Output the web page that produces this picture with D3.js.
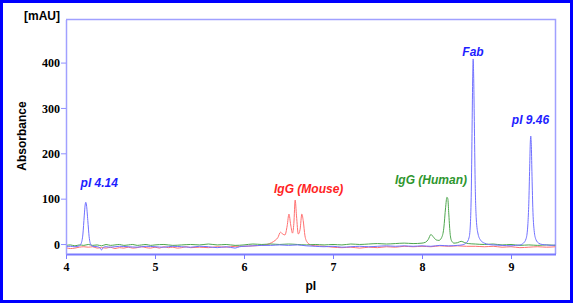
<!DOCTYPE html>
<html>
<head>
<meta charset="utf-8">
<script src="https://cdn.jsdelivr.net/npm/d3@7"></script>
<style>
  body { margin: 0; background: #fff; }
  .title { font-family: "Liberation Sans", Arial, sans-serif; font-weight: bold; font-size: 12px; fill: #000; }
  .peak { font-family: "Liberation Sans", Arial, sans-serif; font-weight: bold; font-style: italic; font-size: 12px; }
</style>
</head>
<body>
<div id="chart"></div>
<script>
// electropherogram traces, [pI, mAU]
var blueTrace = [[4.00,-6],[4.05,-5],[4.10,-6],[4.15,-4],[4.17,1],[4.19,22],[4.205,62],[4.215,86],[4.222,92],[4.23,86],[4.245,52],[4.26,16],[4.28,-2],[4.30,-5],[4.35,-6],[4.38,-8],[4.40,-13],[4.42,-7],[4.45,-6],[4.5,-7],[4.6,-5],[4.7,-6],[4.8,-7],[4.9,-5],[5.0,-6],[5.1,-7],[5.2,-5],[5.3,-6],[5.4,-7],[5.5,-5],[5.6,-6],[5.7,-8],[5.8,-6],[5.9,-9],[5.95,-6],[6.0,-5],[6.1,-4],[6.2,-3],[6.3,-3],[6.4,-2],[6.5,-3],[6.6,-2],[6.7,-4],[6.8,-5],[6.9,-6],[7.0,-5],[7.1,-7],[7.2,-6],[7.3,-5],[7.4,-6],[7.5,-5],[7.6,-4],[7.7,-5],[7.8,-4],[7.9,-5],[8.0,-4],[8.1,-5],[8.2,-3],[8.3,-4],[8.4,-3],[8.45,-2],[8.50,3],[8.53,15],[8.545,50],[8.555,130],[8.563,260],[8.570,370],[8.575,408],[8.580,375],[8.588,270],[8.597,140],[8.61,55],[8.63,22],[8.66,8],[8.70,2],[8.75,-1],[8.8,-2],[8.9,-3],[9.0,-4],[9.05,-3],[9.10,-2],[9.14,2],[9.17,12],[9.19,45],[9.20,90],[9.21,170],[9.217,225],[9.222,238],[9.228,220],[9.235,160],[9.245,80],[9.26,30],[9.28,10],[9.31,2],[9.35,-1],[9.4,-2],[9.45,-3],[9.5,-2]];

var redTrace = [[4.00,-8],[4.05,-10],[4.10,-9],[4.15,-7],[4.20,-6],[4.25,-7],[4.30,-6],[4.35,-9],[4.40,-8],[4.45,-9],[4.50,-7],[4.55,-10],[4.60,-8],[4.65,-9],[4.70,-7],[4.75,-9],[4.80,-8],[4.85,-6],[4.90,-8],[4.95,-9],[5.00,-7],[5.05,-9],[5.10,-6],[5.15,-8],[5.20,-7],[5.25,-9],[5.30,-8],[5.35,-6],[5.40,-8],[5.50,-7],[5.60,-8],[5.70,-6],[5.80,-7],[5.90,-5],[6.00,-5],[6.10,-4],[6.20,-3],[6.26,-1],[6.31,3],[6.35,8],[6.38,14],[6.41,26],[6.435,22],[6.46,20],[6.485,40],[6.505,66],[6.525,42],[6.545,24],[6.56,45],[6.575,97],[6.59,62],[6.61,22],[6.63,32],[6.65,66],[6.665,52],[6.685,18],[6.71,4],[6.75,-2],[6.80,-4],[6.90,-5],[7.00,-7],[7.10,-8],[7.20,-7],[7.30,-9],[7.40,-7],[7.50,-8],[7.60,-6],[7.70,-7],[7.80,-5],[7.90,-6],[8.00,-5],[8.10,-6],[8.20,-4],[8.30,-5],[8.40,-4],[8.50,-5],[8.60,-5],[8.70,-6],[8.80,-5],[8.90,-7],[9.00,-6],[9.10,-8],[9.20,-7],[9.30,-6],[9.40,-7],[9.50,-6]];

var greenTrace = [[4.00,-3],[4.05,-2],[4.10,-4],[4.15,-2],[4.20,-3],[4.25,-1],[4.30,-3],[4.35,-2],[4.40,-4],[4.45,-1],[4.50,-3],[4.55,-2],[4.60,-1],[4.65,-3],[4.70,-2],[4.75,-1],[4.80,-3],[4.85,-2],[4.90,-1],[4.95,-3],[5.00,-2],[5.10,-1],[5.20,-3],[5.30,-2],[5.40,-1],[5.50,-2],[5.60,0],[5.70,-2],[5.80,-1],[5.90,-3],[6.00,-2],[6.10,0],[6.20,-1],[6.30,0],[6.40,-1],[6.50,0],[6.60,-1],[6.70,-2],[6.80,-1],[6.90,-2],[7.00,-1],[7.10,-2],[7.20,0],[7.30,-1],[7.40,0],[7.50,1],[7.60,0],[7.70,1],[7.80,2],[7.90,1],[8.00,2],[8.04,4],[8.07,10],[8.10,21],[8.13,15],[8.16,9],[8.19,8],[8.22,14],[8.245,35],[8.265,80],[8.28,103],[8.29,100],[8.30,70],[8.315,25],[8.33,8],[8.36,2],[8.40,3],[8.44,6],[8.48,3],[8.52,1],[8.60,0],[8.70,-1],[8.80,0],[8.90,-2],[9.00,-1],[9.10,-3],[9.20,-2],[9.30,-3],[9.40,-2],[9.50,-3]];

// peak labels: text, pI, mAU of the label baseline
var peakNames = ["pI 4.14", "IgG (Mouse)", "IgG (Human)", "Fab", "pI 9.46"];
var peakPI    = [4.374, 6.727, 8.101, 8.573, 9.219];
var peakMAU   = [126, 112, 132, 415, 265];

var xTicks = [4, 5, 6, 7, 8, 9];
var yTicks = [0, 100, 200, 300, 400];

var W = 573, H = 303;
var margin = {top: 19.5, right: 17.5, bottom: 49, left: 66};

var svg = d3.select("#chart").append("svg")
    .attr("width", W)
    .attr("height", H);

// outer frame
svg.append("rect")
    .attr("x", 1.5).attr("y", 1.5)
    .attr("width", W - 3).attr("height", H - 3)
    .attr("fill", "none")
    .attr("stroke", "#0000ff")
    .attr("stroke-width", 3);

var x = d3.scaleLinear().domain([4, 9.5]).range([margin.left, W - margin.right]);
var y = d3.scaleLinear().domain([-22, 495]).range([H - margin.bottom, margin.top]);

svg.append("clipPath").attr("id", "plot")
  .append("rect")
    .attr("x", x(4)).attr("y", y(495))
    .attr("width", x(9.5) - x(4)).attr("height", y(-22) - y(495));

// top and right frame of plot
svg.append("path")
    .attr("d", "M" + x(4) + "," + y(495) + "H" + x(9.5) + "V" + y(-22))
    .attr("fill", "none")
    .attr("stroke", "#a0a0ff")
    .attr("stroke-width", 1.5);

// traces
var line = d3.line()
    .x(function(d) { return x(d[0]); })
    .y(function(d) { return y(d[1]); })
    .curve(d3.curveMonotoneX);

var traces = [
  {data: redTrace, color: "#ff7070"},
  {data: greenTrace, color: "#4ea64e"},
  {data: blueTrace, color: "#7070ff"}
];
svg.append("g").attr("clip-path", "url(#plot)")
  .selectAll("path")
  .data(traces)
  .enter().append("path")
    .attr("d", function(d) { return line(d.data); })
    .attr("fill", "none")
    .attr("stroke", function(d) { return d.color; })
    .attr("stroke-width", 1);

// axes
var xAxis = svg.append("g")
    .attr("transform", "translate(0," + y(-22) + ")")
    .call(d3.axisBottom(x).tickValues(xTicks).tickFormat(d3.format("d")).tickSizeInner(5).tickSizeOuter(0).tickPadding(3));
xAxis.select(".domain").attr("stroke", "#7a7aff").attr("stroke-width", 2);
xAxis.selectAll(".tick line").attr("stroke", "#7a7aff");

var yAxis = svg.append("g")
    .attr("transform", "translate(" + x(4) + ",0)")
    .call(d3.axisLeft(y).tickValues(yTicks).tickFormat(d3.format("d")).tickSizeInner(5).tickSizeOuter(0).tickPadding(1));
yAxis.select(".domain").attr("stroke", "#a0a0ff").attr("stroke-width", 1.5);
yAxis.selectAll(".tick line").attr("stroke", "#9090ff");
yAxis.selectAll(".tick text").attr("dy", "0.34em");

// serif bold tick numbers like the original
svg.selectAll(".tick text")
    .style("font-family", "'Liberation Serif', 'Times New Roman', serif")
    .style("font-weight", "bold")
    .style("font-size", "12px")
    .style("fill", "#000");

// axis titles
svg.append("text").attr("class", "title")
    .attr("x", 60).attr("y", 20)
    .attr("text-anchor", "end")
    .text("[mAU]");

svg.append("text").attr("class", "title")
    .attr("transform", "translate(26,136) rotate(-90)")
    .attr("text-anchor", "middle")
    .text("Absorbance");

svg.append("text").attr("class", "title")
    .attr("x", (x(4) + x(9.5)) / 2).attr("y", 290)
    .attr("text-anchor", "middle")
    .text("pI");

// peak labels
var peakColors = ["#1e1eff", "#ff2424", "#2e962e", "#1e1eff", "#1e1eff"];
svg.selectAll(".peak")
  .data(peakNames)
  .enter().append("text")
    .attr("class", "peak")
    .attr("x", function(d, i) { return x(peakPI[i]); })
    .attr("y", function(d, i) { return y(peakMAU[i]); })
    .attr("text-anchor", "middle")
    .attr("fill", function(d, i) { return peakColors[i]; })
    .text(function(d) { return d; });
</script>
</body>
</html>
